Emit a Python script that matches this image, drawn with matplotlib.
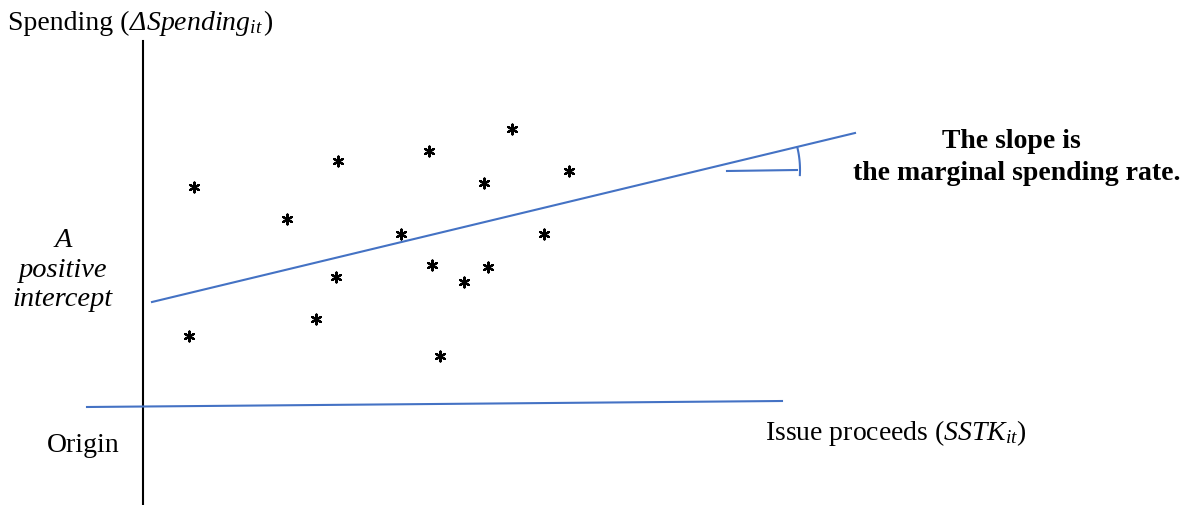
import numpy as np
import matplotlib.pyplot as plt

plt.rcParams['font.family'] = 'Liberation Serif'
plt.rcParams['mathtext.fontset'] = 'custom'
plt.rcParams['mathtext.rm'] = 'Liberation Serif'
plt.rcParams['mathtext.it'] = 'Liberation Serif:italic'

# Scatter points (drawing units, y grows downward)
pts_x = [194, 189, 287, 338, 336, 316, 401, 429, 432, 440, 464, 484, 488, 512, 544, 569]
pts_y = [188, 337, 220, 162, 278, 320, 235, 152, 266, 357, 283, 184, 268, 130, 235, 172]

# Fitted line and horizontal axis line
fit_x = [152, 855]
fit_y = [303, 134]
haxis_x = [87, 782]
haxis_y = [408, 402]
vaxis_x = [143, 143]
vaxis_y = [42, 506]

blue = '#4472C4'

fig = plt.figure(figsize=(12, 5.06), dpi=100)
ax = fig.add_axes([0, 0, 1, 1])
ax.set_xlim(0, 1200)
ax.set_ylim(506, 0)
ax.axis('off')

ax.plot(vaxis_x, vaxis_y, color='black', lw=1.5)
ax.plot(haxis_x, haxis_y, color=blue, lw=1.5)
ax.plot(fit_x, fit_y, color=blue, lw=1.5)

# angle marker at the right end of the line
ax.plot([727, 797], [172, 171], color=blue, lw=1.5)
th = np.linspace(-3, 13.5, 30) * np.pi / 180
cx, cy, r = 703, 171, 97
ax.plot(cx + r * np.cos(th), cy - r * np.sin(th), color=blue, lw=1.5)

ax.scatter(pts_x, pts_y, marker=(6, 2, 0), s=50, color='black', linewidths=1.6)

fs = 20
# y-axis title in three pieces so the Δ can be italic
t1 = ax.text(8, 30, 'Spending (', fontsize=fs, va='baseline')
t2 = ax.annotate(r'ΔSpending$_{it}$', xy=(1, 30), xycoords=(t1, 'data'),
                 fontsize=fs, style='italic', va='baseline')
ax.annotate(')', xy=(1, 30), xycoords=(t2, 'data'), fontsize=fs, va='baseline')

ax.text(765, 440, r'Issue proceeds ($SSTK_{it}$)', fontsize=fs, va='baseline')
ax.text(47, 452, 'Origin', fontsize=fs, va='baseline')
ax.text(63, 247, 'A', fontsize=20.5, style='italic', ha='center', va='baseline')
ax.text(63, 277, 'positive', fontsize=20.5, style='italic', ha='center', va='baseline')
ax.text(62, 306, 'intercept', fontsize=20.5, style='italic', ha='center', va='baseline')
ax.text(1011, 148, 'The slope is', fontsize=fs, weight='bold', ha='center', va='baseline')
ax.text(1017, 180, 'the marginal spending rate.', fontsize=fs, weight='bold', ha='center', va='baseline')

fig.savefig('out.png', dpi=100)
